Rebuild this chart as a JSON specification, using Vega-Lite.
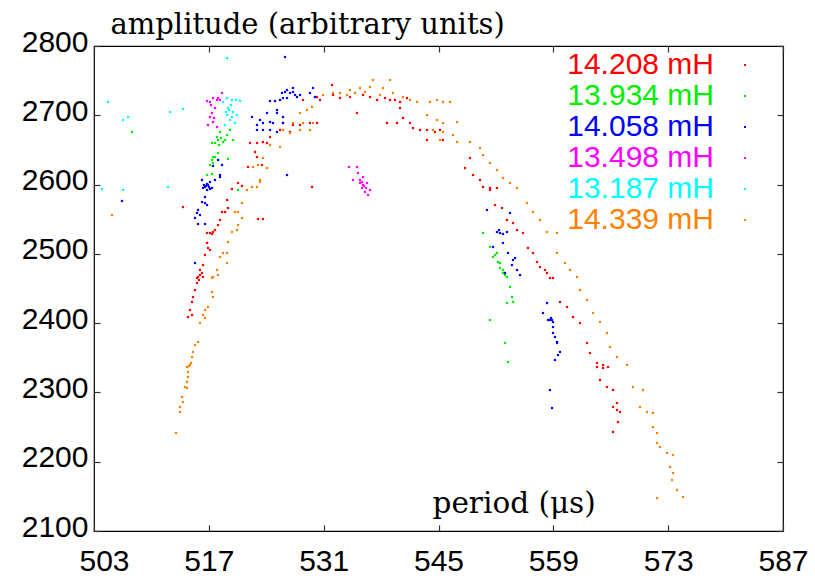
{
  "$schema": "https://vega.github.io/schema/vega-lite/v6.json",
  "width": 689,
  "height": 485,
  "autosize": {"type": "none"},
  "padding": {"left": 94, "top": 46, "right": 32, "bottom": 49},
  "background": "white",
  "config": {
    "view": {"stroke": "#000000", "strokeWidth": 1.2},
    "font": "Liberation Sans",
    "axis": {"grid": false, "labelFont": "Liberation Sans", "labelFontSize": 30, "labelColor": "#000000", "tickColor": "#333333", "tickWidth": 1.2, "domain": false, "labelFlush": false}
  },
  "datasets": {
    "pts": [
      {"coil":"14.208 mH","period":522.87,"amplitude":2639.8},{"coil":"14.208 mH","period":521.78,"amplitude":2625.4},{"coil":"14.208 mH","period":523.48,"amplitude":2628.2},{"coil":"14.208 mH","period":520.56,"amplitude":2602.3},{"coil":"14.208 mH","period":519.82,"amplitude":2593.6},{"coil":"14.208 mH","period":521.04,"amplitude":2598.0},{"coil":"14.208 mH","period":519.22,"amplitude":2577.7},{"coil":"14.208 mH","period":518.97,"amplitude":2560.4},{"coil":"14.208 mH","period":518.61,"amplitude":2560.4},{"coil":"14.208 mH","period":519.34,"amplitude":2566.2},{"coil":"14.208 mH","period":518.36,"amplitude":2548.9},{"coil":"14.208 mH","period":518.12,"amplitude":2541.6},{"coil":"14.208 mH","period":517.51,"amplitude":2531.5},{"coil":"14.208 mH","period":517.14,"amplitude":2530.1},{"coil":"14.208 mH","period":517.75,"amplitude":2534.4},{"coil":"14.208 mH","period":516.78,"amplitude":2530.1},{"coil":"14.208 mH","period":517.39,"amplitude":2528.7},{"coil":"14.208 mH","period":516.78,"amplitude":2515.7},{"coil":"14.208 mH","period":516.90,"amplitude":2508.5},{"coil":"14.208 mH","period":516.53,"amplitude":2498.4},{"coil":"14.208 mH","period":517.14,"amplitude":2505.6},{"coil":"14.208 mH","period":516.29,"amplitude":2483.9},{"coil":"14.208 mH","period":515.92,"amplitude":2476.7},{"coil":"14.208 mH","period":515.68,"amplitude":2466.6},{"coil":"14.208 mH","period":515.56,"amplitude":2465.2},{"coil":"14.208 mH","period":515.92,"amplitude":2469.5},{"coil":"14.208 mH","period":516.17,"amplitude":2472.4},{"coil":"14.208 mH","period":515.80,"amplitude":2462.3},{"coil":"14.208 mH","period":516.29,"amplitude":2466.6},{"coil":"14.208 mH","period":515.56,"amplitude":2458.0},{"coil":"14.208 mH","period":515.31,"amplitude":2447.8},{"coil":"14.208 mH","period":515.07,"amplitude":2437.7},{"coil":"14.208 mH","period":514.95,"amplitude":2430.5},{"coil":"14.208 mH","period":514.70,"amplitude":2418.9},{"coil":"14.208 mH","period":514.95,"amplitude":2411.8},{"coil":"14.208 mH","period":514.46,"amplitude":2408.9},{"coil":"14.208 mH","period":513.85,"amplitude":2567.6},{"coil":"14.208 mH","period":522.99,"amplitude":2550.3},{"coil":"14.208 mH","period":523.60,"amplitude":2550.3},
      {"coil":"14.208 mH","period":528.48,"amplitude":2722.1},{"coil":"14.208 mH","period":530.19,"amplitude":2726.4},{"coil":"14.208 mH","period":530.55,"amplitude":2722.1},{"coil":"14.208 mH","period":532.14,"amplitude":2729.3},{"coil":"14.208 mH","period":532.99,"amplitude":2724.9},{"coil":"14.208 mH","period":534.21,"amplitude":2726.4},{"coil":"14.208 mH","period":535.80,"amplitude":2729.3},{"coil":"14.208 mH","period":536.65,"amplitude":2726.4},{"coil":"14.208 mH","period":537.50,"amplitude":2722.1},{"coil":"14.208 mH","period":538.48,"amplitude":2724.9},{"coil":"14.208 mH","period":539.09,"amplitude":2722.1},{"coil":"14.208 mH","period":539.70,"amplitude":2722.1},{"coil":"14.208 mH","period":540.31,"amplitude":2719.2},{"coil":"14.208 mH","period":541.16,"amplitude":2724.9},{"coil":"14.208 mH","period":532.02,"amplitude":2743.7},
      {"coil":"14.208 mH","period":526.04,"amplitude":2688.9},{"coil":"14.208 mH","period":527.26,"amplitude":2686.0},{"coil":"14.208 mH","period":528.12,"amplitude":2686.0},{"coil":"14.208 mH","period":529.33,"amplitude":2688.9},{"coil":"14.208 mH","period":530.19,"amplitude":2688.9},{"coil":"14.208 mH","period":525.68,"amplitude":2678.8},{"coil":"14.208 mH","period":526.90,"amplitude":2675.9},{"coil":"14.208 mH","period":524.46,"amplitude":2668.7},{"coil":"14.208 mH","period":523.60,"amplitude":2661.4},{"coil":"14.208 mH","period":522.87,"amplitude":2660.0},{"coil":"14.208 mH","period":524.09,"amplitude":2660.0},{"coil":"14.208 mH","period":522.63,"amplitude":2647.0},{"coil":"14.208 mH","period":522.02,"amplitude":2660.0},
      {"coil":"14.208 mH","period":538.72,"amplitude":2688.9},{"coil":"14.208 mH","period":539.94,"amplitude":2688.9},{"coil":"14.208 mH","period":540.31,"amplitude":2710.5},{"coil":"14.208 mH","period":540.67,"amplitude":2696.1},{"coil":"14.208 mH","period":541.53,"amplitude":2688.9},{"coil":"14.208 mH","period":541.89,"amplitude":2681.6},{"coil":"14.208 mH","period":542.74,"amplitude":2678.8},{"coil":"14.208 mH","period":543.60,"amplitude":2678.8},{"coil":"14.208 mH","period":544.57,"amplitude":2675.9},{"coil":"14.208 mH","period":545.18,"amplitude":2678.8},{"coil":"14.208 mH","period":543.60,"amplitude":2664.3},{"coil":"14.208 mH","period":545.55,"amplitude":2664.3},{"coil":"14.208 mH","period":548.23,"amplitude":2623.9},{"coil":"14.208 mH","period":548.84,"amplitude":2638.4},{"coil":"14.208 mH","period":549.21,"amplitude":2613.8},{"coil":"14.208 mH","period":550.06,"amplitude":2606.6},{"coil":"14.208 mH","period":550.43,"amplitude":2596.5},{"coil":"14.208 mH","period":551.28,"amplitude":2595.1},{"coil":"14.208 mH","period":552.13,"amplitude":2595.1},{"coil":"14.208 mH","period":551.28,"amplitude":2592.2},{"coil":"14.208 mH","period":535.06,"amplitude":2703.3},{"coil":"14.208 mH","period":529.58,"amplitude":2596.5},
      {"coil":"14.208 mH","period":551.89,"amplitude":2570.5},{"coil":"14.208 mH","period":552.74,"amplitude":2566.2},{"coil":"14.208 mH","period":553.35,"amplitude":2548.9},{"coil":"14.208 mH","period":554.08,"amplitude":2544.5},{"coil":"14.208 mH","period":554.57,"amplitude":2534.4},{"coil":"14.208 mH","period":555.30,"amplitude":2530.1},{"coil":"14.208 mH","period":555.91,"amplitude":2508.5},{"coil":"14.208 mH","period":556.52,"amplitude":2501.2},{"coil":"14.208 mH","period":557.01,"amplitude":2488.2},{"coil":"14.208 mH","period":557.37,"amplitude":2481.0},{"coil":"14.208 mH","period":557.98,"amplitude":2476.7},{"coil":"14.208 mH","period":558.23,"amplitude":2472.4},{"coil":"14.208 mH","period":558.59,"amplitude":2465.2},{"coil":"14.208 mH","period":558.96,"amplitude":2465.2},{"coil":"14.208 mH","period":559.81,"amplitude":2430.5},{"coil":"14.208 mH","period":560.67,"amplitude":2423.3},{"coil":"14.208 mH","period":561.40,"amplitude":2408.9},{"coil":"14.208 mH","period":562.25,"amplitude":2400.2},{"coil":"14.208 mH","period":563.11,"amplitude":2371.4},{"coil":"14.208 mH","period":563.47,"amplitude":2356.9},{"coil":"14.208 mH","period":564.32,"amplitude":2342.5},{"coil":"14.208 mH","period":565.06,"amplitude":2335.3},{"coil":"14.208 mH","period":565.06,"amplitude":2339.6},{"coil":"14.208 mH","period":564.32,"amplitude":2336.7},{"coil":"14.208 mH","period":565.67,"amplitude":2336.7},{"coil":"14.208 mH","period":564.69,"amplitude":2318.0},{"coil":"14.208 mH","period":565.54,"amplitude":2307.8},{"coil":"14.208 mH","period":566.28,"amplitude":2303.5},{"coil":"14.208 mH","period":566.76,"amplitude":2284.7},{"coil":"14.208 mH","period":566.76,"amplitude":2274.6},{"coil":"14.208 mH","period":566.28,"amplitude":2279.0},{"coil":"14.208 mH","period":567.13,"amplitude":2271.8},{"coil":"14.208 mH","period":566.88,"amplitude":2257.3},{"coil":"14.208 mH","period":566.28,"amplitude":2242.9},

      {"coil":"13.934 mH","period":518.12,"amplitude":2645.6},{"coil":"13.934 mH","period":517.75,"amplitude":2639.8},{"coil":"13.934 mH","period":517.51,"amplitude":2639.8},{"coil":"13.934 mH","period":517.39,"amplitude":2635.5},{"coil":"13.934 mH","period":518.12,"amplitude":2635.5},{"coil":"13.934 mH","period":519.34,"amplitude":2636.9},{"coil":"13.934 mH","period":517.14,"amplitude":2628.2},{"coil":"13.934 mH","period":517.51,"amplitude":2631.1},{"coil":"13.934 mH","period":517.39,"amplitude":2615.3},{"coil":"13.934 mH","period":516.78,"amplitude":2613.8},{"coil":"13.934 mH","period":520.56,"amplitude":2592.2},{"coil":"13.934 mH","period":519.58,"amplitude":2678.8},{"coil":"13.934 mH","period":518.36,"amplitude":2675.9},{"coil":"13.934 mH","period":519.22,"amplitude":2671.5},{"coil":"13.934 mH","period":518.48,"amplitude":2667.2},{"coil":"13.934 mH","period":518.00,"amplitude":2668.7},{"coil":"13.934 mH","period":518.12,"amplitude":2664.3},{"coil":"13.934 mH","period":518.97,"amplitude":2664.3},{"coil":"13.934 mH","period":519.95,"amplitude":2664.3},{"coil":"13.934 mH","period":517.75,"amplitude":2660.0},{"coil":"13.934 mH","period":518.73,"amplitude":2661.4},{"coil":"13.934 mH","period":517.39,"amplitude":2660.0},{"coil":"13.934 mH","period":518.24,"amplitude":2657.1},{"coil":"13.934 mH","period":507.63,"amplitude":2675.9},
      {"coil":"13.934 mH","period":550.43,"amplitude":2530.1},{"coil":"13.934 mH","period":551.28,"amplitude":2509.9},{"coil":"13.934 mH","period":551.65,"amplitude":2495.5},{"coil":"13.934 mH","period":551.89,"amplitude":2498.4},{"coil":"13.934 mH","period":552.13,"amplitude":2501.2},{"coil":"13.934 mH","period":552.25,"amplitude":2488.2},{"coil":"13.934 mH","period":552.50,"amplitude":2486.8},{"coil":"13.934 mH","period":552.50,"amplitude":2479.6},{"coil":"13.934 mH","period":552.86,"amplitude":2476.7},{"coil":"13.934 mH","period":552.86,"amplitude":2472.4},{"coil":"13.934 mH","period":553.11,"amplitude":2469.5},{"coil":"13.934 mH","period":553.35,"amplitude":2466.6},{"coil":"13.934 mH","period":553.72,"amplitude":2452.2},{"coil":"13.934 mH","period":553.96,"amplitude":2437.7},{"coil":"13.934 mH","period":553.35,"amplitude":2429.0},{"coil":"13.934 mH","period":554.08,"amplitude":2430.5},{"coil":"13.934 mH","period":551.28,"amplitude":2404.5},{"coil":"13.934 mH","period":553.11,"amplitude":2371.4},{"coil":"13.934 mH","period":553.47,"amplitude":2343.9},

      {"coil":"14.058 mH","period":518.12,"amplitude":2635.5},{"coil":"14.058 mH","period":518.61,"amplitude":2628.2},{"coil":"14.058 mH","period":517.51,"amplitude":2626.8},{"coil":"14.058 mH","period":518.36,"amplitude":2613.8},{"coil":"14.058 mH","period":517.75,"amplitude":2606.6},{"coil":"14.058 mH","period":517.14,"amplitude":2603.7},{"coil":"14.058 mH","period":516.90,"amplitude":2599.4},{"coil":"14.058 mH","period":516.53,"amplitude":2596.5},{"coil":"14.058 mH","period":517.39,"amplitude":2595.1},{"coil":"14.058 mH","period":516.78,"amplitude":2592.2},{"coil":"14.058 mH","period":516.29,"amplitude":2595.1},{"coil":"14.058 mH","period":516.65,"amplitude":2598.0},{"coil":"14.058 mH","period":517.02,"amplitude":2596.5},{"coil":"14.058 mH","period":516.41,"amplitude":2599.4},{"coil":"14.058 mH","period":517.14,"amplitude":2593.6},{"coil":"14.058 mH","period":516.78,"amplitude":2600.8},{"coil":"14.058 mH","period":518.36,"amplitude":2610.9},{"coil":"14.058 mH","period":516.17,"amplitude":2606.6},{"coil":"14.058 mH","period":516.53,"amplitude":2582.1},{"coil":"14.058 mH","period":516.17,"amplitude":2574.8},{"coil":"14.058 mH","period":516.53,"amplitude":2573.4},{"coil":"14.058 mH","period":516.78,"amplitude":2570.5},{"coil":"14.058 mH","period":515.68,"amplitude":2563.3},{"coil":"14.058 mH","period":515.56,"amplitude":2559.0},{"coil":"14.058 mH","period":515.92,"amplitude":2556.1},{"coil":"14.058 mH","period":515.31,"amplitude":2551.8},{"coil":"14.058 mH","period":515.68,"amplitude":2543.1},{"coil":"14.058 mH","period":516.53,"amplitude":2543.1},{"coil":"14.058 mH","period":506.41,"amplitude":2576.3},{"coil":"14.058 mH","period":515.31,"amplitude":2486.8},
      {"coil":"14.058 mH","period":526.29,"amplitude":2784.1},{"coil":"14.058 mH","period":524.46,"amplitude":2720.6},{"coil":"14.058 mH","period":525.07,"amplitude":2720.6},{"coil":"14.058 mH","period":525.68,"amplitude":2722.1},{"coil":"14.058 mH","period":526.04,"amplitude":2724.9},{"coil":"14.058 mH","period":526.53,"amplitude":2724.9},{"coil":"14.058 mH","period":525.92,"amplitude":2732.2},{"coil":"14.058 mH","period":526.29,"amplitude":2733.6},{"coil":"14.058 mH","period":526.90,"amplitude":2732.2},{"coil":"14.058 mH","period":526.53,"amplitude":2736.5},{"coil":"14.058 mH","period":527.26,"amplitude":2733.6},{"coil":"14.058 mH","period":527.26,"amplitude":2739.4},{"coil":"14.058 mH","period":527.51,"amplitude":2729.3},{"coil":"14.058 mH","period":527.75,"amplitude":2726.4},{"coil":"14.058 mH","period":528.12,"amplitude":2729.3},{"coil":"14.058 mH","period":529.33,"amplitude":2732.2},{"coil":"14.058 mH","period":529.70,"amplitude":2739.4},{"coil":"14.058 mH","period":529.94,"amplitude":2726.4},
      {"coil":"14.058 mH","period":522.26,"amplitude":2697.5},{"coil":"14.058 mH","period":523.24,"amplitude":2693.2},{"coil":"14.058 mH","period":524.09,"amplitude":2703.3},{"coil":"14.058 mH","period":525.31,"amplitude":2707.6},{"coil":"14.058 mH","period":525.31,"amplitude":2703.3},{"coil":"14.058 mH","period":526.04,"amplitude":2697.5},{"coil":"14.058 mH","period":522.87,"amplitude":2686.0},{"coil":"14.058 mH","period":523.60,"amplitude":2688.9},{"coil":"14.058 mH","period":524.46,"amplitude":2690.3},{"coil":"14.058 mH","period":524.82,"amplitude":2688.9},{"coil":"14.058 mH","period":526.04,"amplitude":2688.9},{"coil":"14.058 mH","period":522.87,"amplitude":2678.8},{"coil":"14.058 mH","period":523.60,"amplitude":2678.8},{"coil":"14.058 mH","period":524.46,"amplitude":2678.8},{"coil":"14.058 mH","period":525.31,"amplitude":2675.9},{"coil":"14.058 mH","period":526.53,"amplitude":2613.8},
      {"coil":"14.058 mH","period":550.91,"amplitude":2563.3},{"coil":"14.058 mH","period":551.65,"amplitude":2509.9},{"coil":"14.058 mH","period":552.13,"amplitude":2531.5},{"coil":"14.058 mH","period":552.38,"amplitude":2534.4},{"coil":"14.058 mH","period":552.50,"amplitude":2530.1},{"coil":"14.058 mH","period":552.86,"amplitude":2528.7},{"coil":"14.058 mH","period":553.35,"amplitude":2531.5},{"coil":"14.058 mH","period":553.72,"amplitude":2559.0},{"coil":"14.058 mH","period":552.86,"amplitude":2515.7},{"coil":"14.058 mH","period":553.47,"amplitude":2501.2},{"coil":"14.058 mH","period":554.33,"amplitude":2494.0},{"coil":"14.058 mH","period":554.08,"amplitude":2491.1},{"coil":"14.058 mH","period":553.96,"amplitude":2483.9},{"coil":"14.058 mH","period":554.57,"amplitude":2476.7},{"coil":"14.058 mH","period":553.11,"amplitude":2472.4},{"coil":"14.058 mH","period":554.94,"amplitude":2469.5},{"coil":"14.058 mH","period":558.23,"amplitude":2429.0},{"coil":"14.058 mH","period":557.74,"amplitude":2414.6},{"coil":"14.058 mH","period":558.35,"amplitude":2404.5},{"coil":"14.058 mH","period":558.59,"amplitude":2404.5},{"coil":"14.058 mH","period":558.72,"amplitude":2407.4},{"coil":"14.058 mH","period":558.84,"amplitude":2404.5},{"coil":"14.058 mH","period":558.96,"amplitude":2401.6},{"coil":"14.058 mH","period":558.96,"amplitude":2394.4},{"coil":"14.058 mH","period":558.96,"amplitude":2385.8},{"coil":"14.058 mH","period":559.20,"amplitude":2380.0},{"coil":"14.058 mH","period":559.45,"amplitude":2372.8},{"coil":"14.058 mH","period":559.45,"amplitude":2371.4},{"coil":"14.058 mH","period":559.81,"amplitude":2358.4},{"coil":"14.058 mH","period":559.57,"amplitude":2354.0},{"coil":"14.058 mH","period":559.20,"amplitude":2346.8},{"coil":"14.058 mH","period":558.59,"amplitude":2303.5},{"coil":"14.058 mH","period":558.84,"amplitude":2277.5},

      {"coil":"13.498 mH","period":518.61,"amplitude":2732.2},{"coil":"13.498 mH","period":517.51,"amplitude":2724.9},{"coil":"13.498 mH","period":518.12,"amplitude":2724.9},{"coil":"13.498 mH","period":518.00,"amplitude":2722.1},{"coil":"13.498 mH","period":518.36,"amplitude":2722.1},{"coil":"13.498 mH","period":517.14,"amplitude":2719.2},{"coil":"13.498 mH","period":516.78,"amplitude":2720.6},{"coil":"13.498 mH","period":517.26,"amplitude":2714.8},{"coil":"13.498 mH","period":517.75,"amplitude":2710.5},{"coil":"13.498 mH","period":517.39,"amplitude":2703.3},{"coil":"13.498 mH","period":517.14,"amplitude":2697.5},{"coil":"13.498 mH","period":517.63,"amplitude":2696.1},{"coil":"13.498 mH","period":517.51,"amplitude":2690.3},{"coil":"13.498 mH","period":516.90,"amplitude":2686.0},{"coil":"13.498 mH","period":518.00,"amplitude":2683.1},
      {"coil":"13.498 mH","period":534.09,"amplitude":2625.4},{"coil":"13.498 mH","period":535.06,"amplitude":2625.4},{"coil":"13.498 mH","period":535.19,"amplitude":2616.7},{"coil":"13.498 mH","period":535.80,"amplitude":2610.9},{"coil":"13.498 mH","period":535.43,"amplitude":2606.6},{"coil":"13.498 mH","period":534.58,"amplitude":2606.6},{"coil":"13.498 mH","period":535.67,"amplitude":2603.7},{"coil":"13.498 mH","period":535.43,"amplitude":2602.3},{"coil":"13.498 mH","period":536.28,"amplitude":2602.3},{"coil":"13.498 mH","period":535.80,"amplitude":2599.4},{"coil":"13.498 mH","period":535.92,"amplitude":2598.0},{"coil":"13.498 mH","period":535.67,"amplitude":2595.1},{"coil":"13.498 mH","period":536.16,"amplitude":2595.1},{"coil":"13.498 mH","period":536.04,"amplitude":2589.3},{"coil":"13.498 mH","period":536.65,"amplitude":2592.2},{"coil":"13.498 mH","period":536.41,"amplitude":2585.0},

      {"coil":"13.187 mH","period":519.22,"amplitude":2782.7},{"coil":"13.187 mH","period":519.22,"amplitude":2724.9},{"coil":"13.187 mH","period":519.82,"amplitude":2722.1},{"coil":"13.187 mH","period":520.31,"amplitude":2722.1},{"coil":"13.187 mH","period":520.80,"amplitude":2720.6},{"coil":"13.187 mH","period":518.73,"amplitude":2719.2},{"coil":"13.187 mH","period":519.70,"amplitude":2714.8},{"coil":"13.187 mH","period":519.34,"amplitude":2710.5},{"coil":"13.187 mH","period":519.46,"amplitude":2707.6},{"coil":"13.187 mH","period":519.95,"amplitude":2704.7},{"coil":"13.187 mH","period":519.09,"amplitude":2704.7},{"coil":"13.187 mH","period":519.22,"amplitude":2700.4},{"coil":"13.187 mH","period":520.43,"amplitude":2700.4},{"coil":"13.187 mH","period":519.82,"amplitude":2697.5},{"coil":"13.187 mH","period":519.58,"amplitude":2693.2},{"coil":"13.187 mH","period":520.19,"amplitude":2688.9},{"coil":"13.187 mH","period":518.97,"amplitude":2686.0},{"coil":"13.187 mH","period":504.71,"amplitude":2719.2},{"coil":"13.187 mH","period":513.85,"amplitude":2709.1},{"coil":"13.187 mH","period":512.27,"amplitude":2704.7},{"coil":"13.187 mH","period":507.15,"amplitude":2697.5},{"coil":"13.187 mH","period":506.54,"amplitude":2693.2},{"coil":"13.187 mH","period":512.02,"amplitude":2596.5},{"coil":"13.187 mH","period":503.98,"amplitude":2593.6},{"coil":"13.187 mH","period":506.54,"amplitude":2592.2},

      {"coil":"14.339 mH","period":522.99,"amplitude":2628.2},{"coil":"14.339 mH","period":523.24,"amplitude":2603.7},{"coil":"14.339 mH","period":522.26,"amplitude":2596.5},{"coil":"14.339 mH","period":521.65,"amplitude":2592.2},{"coil":"14.339 mH","period":521.04,"amplitude":2573.4},{"coil":"14.339 mH","period":520.56,"amplitude":2560.4},{"coil":"14.339 mH","period":520.19,"amplitude":2560.4},{"coil":"14.339 mH","period":521.04,"amplitude":2551.8},{"coil":"14.339 mH","period":520.56,"amplitude":2541.6},{"coil":"14.339 mH","period":520.43,"amplitude":2534.4},{"coil":"14.339 mH","period":519.82,"amplitude":2531.5},{"coil":"14.339 mH","period":519.34,"amplitude":2517.1},{"coil":"14.339 mH","period":518.73,"amplitude":2501.2},{"coil":"14.339 mH","period":518.36,"amplitude":2495.5},{"coil":"14.339 mH","period":519.22,"amplitude":2501.2},{"coil":"14.339 mH","period":519.22,"amplitude":2486.8},{"coil":"14.339 mH","period":518.00,"amplitude":2476.7},{"coil":"14.339 mH","period":518.12,"amplitude":2469.5},{"coil":"14.339 mH","period":517.51,"amplitude":2466.6},{"coil":"14.339 mH","period":517.39,"amplitude":2465.2},{"coil":"14.339 mH","period":517.39,"amplitude":2444.9},{"coil":"14.339 mH","period":517.51,"amplitude":2437.7},{"coil":"14.339 mH","period":516.90,"amplitude":2423.3},{"coil":"14.339 mH","period":516.53,"amplitude":2418.9},{"coil":"14.339 mH","period":516.29,"amplitude":2411.8},{"coil":"14.339 mH","period":516.53,"amplitude":2407.4},{"coil":"14.339 mH","period":515.92,"amplitude":2400.2},{"coil":"14.339 mH","period":515.68,"amplitude":2372.8},{"coil":"14.339 mH","period":515.31,"amplitude":2368.5},{"coil":"14.339 mH","period":515.07,"amplitude":2358.4},{"coil":"14.339 mH","period":514.95,"amplitude":2351.1},{"coil":"14.339 mH","period":514.70,"amplitude":2339.6},{"coil":"14.339 mH","period":514.83,"amplitude":2342.5},{"coil":"14.339 mH","period":514.58,"amplitude":2338.1},{"coil":"14.339 mH","period":514.34,"amplitude":2336.7},{"coil":"14.339 mH","period":514.46,"amplitude":2329.5},{"coil":"14.339 mH","period":514.46,"amplitude":2322.3},{"coil":"14.339 mH","period":514.34,"amplitude":2315.1},{"coil":"14.339 mH","period":514.09,"amplitude":2307.8},{"coil":"14.339 mH","period":514.34,"amplitude":2306.4},{"coil":"14.339 mH","period":513.73,"amplitude":2293.4},{"coil":"14.339 mH","period":513.85,"amplitude":2286.2},{"coil":"14.339 mH","period":513.48,"amplitude":2279.0},{"coil":"14.339 mH","period":513.48,"amplitude":2271.8},{"coil":"14.339 mH","period":513.00,"amplitude":2241.4},{"coil":"14.339 mH","period":505.19,"amplitude":2556.1},
      {"coil":"14.339 mH","period":530.92,"amplitude":2729.3},{"coil":"14.339 mH","period":532.14,"amplitude":2732.2},{"coil":"14.339 mH","period":532.99,"amplitude":2732.2},{"coil":"14.339 mH","period":533.85,"amplitude":2729.3},{"coil":"14.339 mH","period":534.21,"amplitude":2736.5},{"coil":"14.339 mH","period":534.82,"amplitude":2732.2},{"coil":"14.339 mH","period":535.43,"amplitude":2739.4},{"coil":"14.339 mH","period":536.04,"amplitude":2733.6},{"coil":"14.339 mH","period":536.65,"amplitude":2740.8},{"coil":"14.339 mH","period":537.01,"amplitude":2750.9},{"coil":"14.339 mH","period":537.87,"amplitude":2729.3},{"coil":"14.339 mH","period":538.23,"amplitude":2739.4},{"coil":"14.339 mH","period":539.09,"amplitude":2750.9},{"coil":"14.339 mH","period":539.45,"amplitude":2732.2},{"coil":"14.339 mH","period":540.67,"amplitude":2726.4},{"coil":"14.339 mH","period":541.53,"amplitude":2722.1},{"coil":"14.339 mH","period":542.38,"amplitude":2719.2},{"coil":"14.339 mH","period":543.96,"amplitude":2719.2},{"coil":"14.339 mH","period":544.82,"amplitude":2722.1},{"coil":"14.339 mH","period":545.55,"amplitude":2719.2},{"coil":"14.339 mH","period":546.40,"amplitude":2719.2},
      {"coil":"14.339 mH","period":543.60,"amplitude":2700.4},{"coil":"14.339 mH","period":544.82,"amplitude":2693.2},{"coil":"14.339 mH","period":545.55,"amplitude":2688.9},{"coil":"14.339 mH","period":547.26,"amplitude":2690.3},{"coil":"14.339 mH","period":544.33,"amplitude":2678.8},{"coil":"14.339 mH","period":545.55,"amplitude":2675.9},{"coil":"14.339 mH","period":546.77,"amplitude":2671.5},{"coil":"14.339 mH","period":545.18,"amplitude":2664.3},{"coil":"14.339 mH","period":547.26,"amplitude":2661.4},{"coil":"14.339 mH","period":548.84,"amplitude":2661.4},{"coil":"14.339 mH","period":550.06,"amplitude":2652.8},{"coil":"14.339 mH","period":550.43,"amplitude":2642.7},{"coil":"14.339 mH","period":551.28,"amplitude":2631.1},{"coil":"14.339 mH","period":552.13,"amplitude":2621.0},
      {"coil":"14.339 mH","period":528.12,"amplitude":2703.3},{"coil":"14.339 mH","period":528.97,"amplitude":2707.6},{"coil":"14.339 mH","period":529.58,"amplitude":2712.0},{"coil":"14.339 mH","period":527.26,"amplitude":2688.9},{"coil":"14.339 mH","period":528.48,"amplitude":2688.9},{"coil":"14.339 mH","period":529.70,"amplitude":2688.9},{"coil":"14.339 mH","period":526.04,"amplitude":2678.8},{"coil":"14.339 mH","period":526.90,"amplitude":2674.4},{"coil":"14.339 mH","period":528.12,"amplitude":2678.8},{"coil":"14.339 mH","period":529.33,"amplitude":2678.8},{"coil":"14.339 mH","period":524.46,"amplitude":2657.1},{"coil":"14.339 mH","period":525.68,"amplitude":2654.2},{"coil":"14.339 mH","period":523.60,"amplitude":2638.4},{"coil":"14.339 mH","period":522.38,"amplitude":2625.4},{"coil":"14.339 mH","period":524.09,"amplitude":2623.9},{"coil":"14.339 mH","period":523.24,"amplitude":2606.6},{"coil":"14.339 mH","period":522.87,"amplitude":2596.5},
      {"coil":"14.339 mH","period":552.86,"amplitude":2609.5},{"coil":"14.339 mH","period":553.72,"amplitude":2602.3},{"coil":"14.339 mH","period":554.57,"amplitude":2595.1},{"coil":"14.339 mH","period":555.79,"amplitude":2573.4},{"coil":"14.339 mH","period":556.52,"amplitude":2560.4},{"coil":"14.339 mH","period":557.37,"amplitude":2548.9},{"coil":"14.339 mH","period":558.23,"amplitude":2531.5},{"coil":"14.339 mH","period":559.45,"amplitude":2530.1},{"coil":"14.339 mH","period":559.45,"amplitude":2501.2},{"coil":"14.339 mH","period":560.42,"amplitude":2486.8},{"coil":"14.339 mH","period":561.03,"amplitude":2476.7},{"coil":"14.339 mH","period":561.89,"amplitude":2466.6},{"coil":"14.339 mH","period":562.25,"amplitude":2447.8},{"coil":"14.339 mH","period":563.11,"amplitude":2433.4},{"coil":"14.339 mH","period":563.84,"amplitude":2414.6},{"coil":"14.339 mH","period":564.69,"amplitude":2401.6},{"coil":"14.339 mH","period":565.54,"amplitude":2385.8},{"coil":"14.339 mH","period":565.91,"amplitude":2365.6},{"coil":"14.339 mH","period":566.76,"amplitude":2351.1},{"coil":"14.339 mH","period":567.98,"amplitude":2339.6},{"coil":"14.339 mH","period":568.71,"amplitude":2307.8},{"coil":"14.339 mH","period":569.93,"amplitude":2303.5},{"coil":"14.339 mH","period":569.56,"amplitude":2279.0},{"coil":"14.339 mH","period":570.42,"amplitude":2271.8},{"coil":"14.339 mH","period":571.15,"amplitude":2270.3},{"coil":"14.339 mH","period":571.15,"amplitude":2250.1},{"coil":"14.339 mH","period":571.64,"amplitude":2241.4},{"coil":"14.339 mH","period":571.64,"amplitude":2227.0},{"coil":"14.339 mH","period":572.00,"amplitude":2221.2},{"coil":"14.339 mH","period":572.86,"amplitude":2212.6},{"coil":"14.339 mH","period":573.59,"amplitude":2209.7},{"coil":"14.339 mH","period":573.22,"amplitude":2192.4},{"coil":"14.339 mH","period":573.59,"amplitude":2183.7},{"coil":"14.339 mH","period":573.47,"amplitude":2173.6},{"coil":"14.339 mH","period":574.08,"amplitude":2159.2},{"coil":"14.339 mH","period":571.64,"amplitude":2147.6},{"coil":"14.339 mH","period":574.81,"amplitude":2149.1}
    ]
  },
  "data": {"name": "pts"},
  "layer": [
    {
      "mark": {"type": "square", "size": 5, "opacity": 1, "filled": true},
      "encoding": {
        "x": {
          "field": "period", "type": "quantitative",
          "scale": {"domain": [503, 587], "nice": false, "zero": false},
          "axis": {
            "orient": "bottom",
            "values": [503, 517, 531, 545, 559, 573, 587],
            "tickSize": -6, "labelPadding": 21, "labelFlush": false,
            "title": "period (μs)",
            "titleFont": "DejaVu Serif", "titleFontSize": 29.5, "titleFontWeight": "normal", "titleColor": "#000000",
            "titleAnchor": "start", "titleAlign": "left", "titleBaseline": "alphabetic",
            "titleX": 338, "titleY": -19,
            "encoding": {"labels": {
              "align": {"condition": {"test": "datum.value === 503", "value": "left"}, "value": "center"},
              "dx": {"condition": {"test": "datum.value === 503", "value": -15}, "value": 0}
            }}
          }
        },
        "y": {
          "field": "amplitude", "type": "quantitative",
          "scale": {"domain": [2100, 2800], "nice": false, "zero": false},
          "axis": {
            "orient": "left", "format": "d",
            "values": [2100, 2200, 2300, 2400, 2500, 2600, 2700, 2800],
            "tickSize": -6, "labelPadding": 12, "labelFlush": false, "labelOffset": -4,
            "title": "amplitude (arbitrary units)",
            "titleFont": "DejaVu Serif", "titleFontSize": 29, "titleFontWeight": "normal", "titleColor": "#000000",
            "titleAngle": 0, "titleAlign": "left", "titleBaseline": "alphabetic",
            "titleX": 16, "titleY": -13
          }
        },
        "color": {
          "field": "coil", "type": "nominal",
          "scale": {
            "domain": ["14.208 mH", "13.934 mH", "14.058 mH", "13.498 mH", "13.187 mH", "14.339 mH"],
            "range": ["#ff0000", "#00ee00", "#0000ff", "#ff00ff", "#00ffff", "#ff8000"]
          },
          "legend": {
            "orient": "none", "legendX": 636, "legendY": 4,
            "title": null, "padding": 0, "offset": 0,
            "symbolType": "square", "symbolSize": 4,
            "labelFont": "Liberation Sans", "labelFontSize": 30,
            "labelAlign": "right", "labelOffset": -46, "labelLimit": 400,
            "rowPadding": 1,
            "encoding": {"labels": {"fill": {"condition": [
              {"test": "datum.value === '14.208 mH'", "value": "#ff0000"},
              {"test": "datum.value === '13.934 mH'", "value": "#00ee00"},
              {"test": "datum.value === '14.058 mH'", "value": "#0000ff"},
              {"test": "datum.value === '13.498 mH'", "value": "#ff00ff"},
              {"test": "datum.value === '13.187 mH'", "value": "#00ffff"}
            ], "value": "#ff8000"}}}
          }
        }
      }
    },
    {
      "mark": {"type": "square", "size": 4, "opacity": 0},
      "encoding": {
        "x": {"field": "period", "type": "quantitative", "axis": {"orient": "top", "values": [503, 517, 531, 545, 559, 573, 587], "labels": false, "title": null, "tickSize": -6}},
        "y": {"field": "amplitude", "type": "quantitative", "axis": {"orient": "right", "values": [2100, 2200, 2300, 2400, 2500, 2600, 2700, 2800], "labels": false, "title": null, "tickSize": -6}}
      }
    }
  ]
}
